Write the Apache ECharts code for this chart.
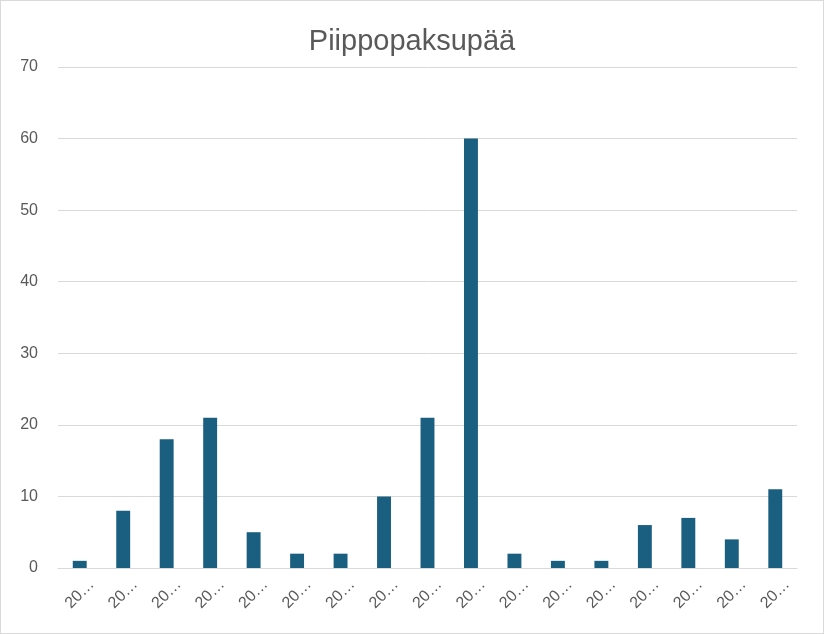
<!DOCTYPE html>
<html>
<head>
<meta charset="utf-8">
<script src="https://cdn.jsdelivr.net/npm/echarts@6/dist/echarts.min.js"></script>
<style>
html, body { margin: 0; padding: 0; background: #fff; }
#chart { width: 822px; height: 632px; border: 1px solid #d9d9d9; }
</style>
</head>
<body>
<div id="chart"></div>
<script>
// category labels are truncated in the source chart
var categories = ['20…', '20…', '20…', '20…', '20…', '20…', '20…', '20…', '20…',
                  '20…', '20…', '20…', '20…', '20…', '20…', '20…', '20…'];
var values = [1, 8, 18, 21, 5, 2, 2, 10, 21, 60, 2, 1, 1, 6, 7, 4, 11];
var yTicks = [0, 10, 20, 30, 40, 50, 60, 70];

var chart = echarts.init(document.getElementById('chart'));
var option = {
    animation: false,
    title: {
        text: 'Piippopaksupää',
        left: 'center',
        top: 21,
        textStyle: {
            color: '#595959',
            fontSize: 29,
            fontWeight: 'normal',
            fontFamily: 'Liberation Sans, Arial, sans-serif'
        }
    },
    grid: {
        left: 57,
        right: 26,
        top: 66,
        bottom: 65
    },
    xAxis: {
        type: 'category',
        data: categories,
        axisLine: { lineStyle: { color: '#d9d9d9', width: 1 } },
        axisTick: { show: false },
        axisLabel: {
            rotate: 45,
            interval: 0,
            margin: 26,
            align: 'center',
            verticalAlign: 'middle',
            color: '#595959',
            fontSize: 16,
            fontFamily: 'Liberation Sans, Arial, sans-serif'
        }
    },
    yAxis: {
        type: 'value',
        min: yTicks[0],
        max: yTicks[yTicks.length - 1],
        interval: 10,
        axisLine: { show: false },
        axisTick: { show: false },
        splitLine: { lineStyle: { color: '#d9d9d9', width: 1 } },
        axisLabel: {
            margin: 20,
            color: '#595959',
            fontSize: 16,
            fontFamily: 'Liberation Sans, Arial, sans-serif'
        }
    },
    series: [{
        type: 'bar',
        data: values,
        barWidth: '32%',
        itemStyle: { color: '#1a5e80' }
    }]
};
chart.setOption(option);
</script>
</body>
</html>
